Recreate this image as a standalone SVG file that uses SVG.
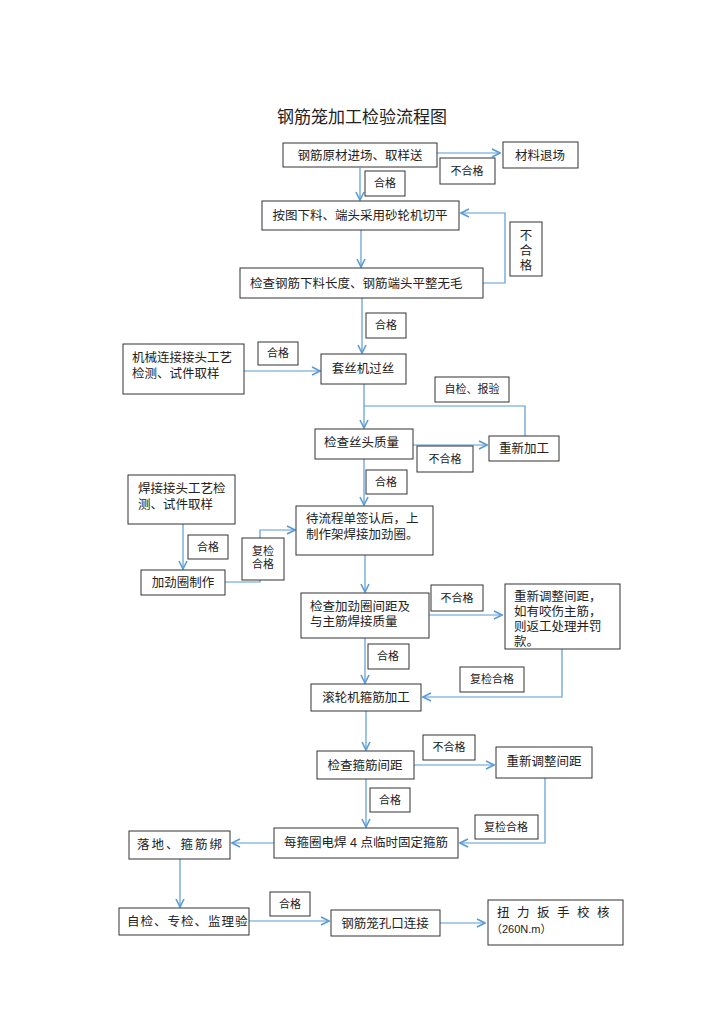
<svg xmlns="http://www.w3.org/2000/svg" width="724" height="1024" viewBox="0 0 724 1024">
<defs>
<marker id="a" viewBox="0 0 10 10" refX="9" refY="5" markerWidth="10" markerHeight="10" markerUnits="userSpaceOnUse" orient="auto"><path d="M1,1 L9,5 L1,9" fill="none" stroke="#5b9bd5" stroke-width="1.6"/></marker>
<style>
rect{fill:#fff;stroke:#333;stroke-width:1}
text{font-family:"Liberation Sans","Noto Sans CJK SC",sans-serif;font-size:12.5px;fill:#222}
.s{font-size:11px}
.c line,.c polyline{fill:none;stroke:#5b9bd5;stroke-width:1.2}
</style>
</defs>
<rect x="0" y="0" width="724" height="1024" style="stroke:none"/>
<text x="362" y="123" text-anchor="middle" style="font-size:17px">钢筋笼加工检验流程图</text>
<g class="c">
<line x1="437" y1="153" x2="500" y2="153" marker-end="url(#a)"/>
<line x1="360" y1="168" x2="360" y2="200" marker-end="url(#a)"/>
<line x1="361" y1="230" x2="361" y2="267" marker-end="url(#a)"/>
<polyline points="483,283 505,283 505,213 461,213" marker-end="url(#a)"/>
<line x1="362" y1="298" x2="362" y2="353" marker-end="url(#a)"/>
<line x1="244" y1="371" x2="320" y2="371" marker-end="url(#a)"/>
<line x1="364" y1="384" x2="364" y2="428" marker-end="url(#a)"/>
<polyline points="525,436 525,406 364,406"/>
<line x1="413" y1="445" x2="487" y2="445" marker-end="url(#a)"/>
<line x1="364" y1="459" x2="364" y2="505" marker-end="url(#a)"/>
<line x1="183" y1="524" x2="183" y2="569" marker-end="url(#a)"/>
<polyline points="225,582 260,582 260,530 295,530" marker-end="url(#a)"/>
<line x1="365" y1="555" x2="365" y2="592" marker-end="url(#a)"/>
<line x1="429" y1="615" x2="502" y2="615" marker-end="url(#a)"/>
<line x1="365" y1="638" x2="365" y2="683" marker-end="url(#a)"/>
<polyline points="562,649 562,697 423,697" marker-end="url(#a)"/>
<line x1="366" y1="711" x2="366" y2="750" marker-end="url(#a)"/>
<line x1="414" y1="765" x2="494" y2="765" marker-end="url(#a)"/>
<line x1="366" y1="779" x2="366" y2="827" marker-end="url(#a)"/>
<polyline points="545,778 545,843 460,843" marker-end="url(#a)"/>
<line x1="274" y1="843" x2="232" y2="843" marker-end="url(#a)"/>
<line x1="180" y1="859" x2="180" y2="907" marker-end="url(#a)"/>
<line x1="249" y1="921" x2="329" y2="921" marker-end="url(#a)"/>
<line x1="440" y1="923" x2="485" y2="923" marker-end="url(#a)"/>
</g>
<g id="n1"><rect x="283" y="143" width="154" height="24"/><text x="360" y="160" text-anchor="middle">钢筋原材进场、取样送</text></g>
<g id="n2"><rect x="503" y="142" width="75" height="26"/><text x="540" y="160" text-anchor="middle">材料退场</text></g>
<g id="l1"><rect x="440" y="158" width="55" height="26"/><text x="467" y="175" text-anchor="middle" class="s">不合格</text></g>
<g id="l2"><rect x="365" y="171" width="40" height="25"/><text x="385" y="187" text-anchor="middle" class="s">合格</text></g>
<g id="n3"><rect x="262" y="201" width="197" height="29"/><text x="360" y="220" text-anchor="middle">按图下料、端头采用砂轮机切平</text></g>
<g id="l3"><rect x="510" y="222" width="32" height="54"/><text x="526" y="240" text-anchor="middle">不</text><text x="526" y="255" text-anchor="middle">合</text><text x="526" y="270" text-anchor="middle">格</text></g>
<g id="n4"><rect x="240" y="268" width="243" height="30"/><text x="250" y="288">检查钢筋下料长度、钢筋端头平整无毛</text></g>
<g id="l4"><rect x="366" y="313" width="40" height="25"/><text x="386" y="329" text-anchor="middle" class="s">合格</text></g>
<g id="n5"><rect x="123" y="344" width="121" height="50"/><text x="132" y="362">机械连接接头工艺</text><text x="132" y="378">检测、试件取样</text></g>
<g id="l5"><rect x="258" y="342" width="40" height="23"/><text x="278" y="357" text-anchor="middle" class="s">合格</text></g>
<g id="n6"><rect x="321" y="354" width="85" height="30"/><text x="363" y="373" text-anchor="middle">套丝机过丝</text></g>
<g id="l6"><rect x="435" y="377" width="74" height="25"/><text x="472" y="393" text-anchor="middle" class="s">自检、报验</text></g>
<g id="n7"><rect x="315" y="429" width="98" height="30"/><text x="324" y="447">检查丝头质量</text></g>
<g id="l7"><rect x="417" y="446" width="56" height="26"/><text x="445" y="463" text-anchor="middle" class="s">不合格</text></g>
<g id="n8"><rect x="489" y="436" width="70" height="25"/><text x="524" y="453" text-anchor="middle">重新加工</text></g>
<g id="l8"><rect x="366" y="470" width="41" height="24"/><text x="386" y="486" text-anchor="middle" class="s">合格</text></g>
<g id="n9"><rect x="128" y="475" width="107" height="49"/><text x="138" y="493">焊接接头工艺检</text><text x="138" y="509">测、试件取样</text></g>
<g id="n10"><rect x="296" y="506" width="137" height="49"/><text x="306" y="523">待流程单签认后，上</text><text x="306" y="539">制作架焊接加劲圈。</text></g>
<g id="l9"><rect x="188" y="535" width="40" height="24"/><text x="208" y="551" text-anchor="middle" class="s">合格</text></g>
<g id="l10"><rect x="242" y="538" width="42" height="42"/><text x="263" y="555" text-anchor="middle" class="s">复检</text><text x="263" y="568" text-anchor="middle" class="s">合格</text></g>
<g id="n11"><rect x="141" y="570" width="84" height="25"/><text x="183" y="587" text-anchor="middle">加劲圈制作</text></g>
<g id="n12"><rect x="301" y="593" width="128" height="45"/><text x="310" y="611">检查加劲圈间距及</text><text x="310" y="626">与主筋焊接质量</text></g>
<g id="l11"><rect x="431" y="585" width="52" height="26"/><text x="457" y="602" text-anchor="middle" class="s">不合格</text></g>
<g id="n13"><rect x="505" y="584" width="115" height="65"/><text x="514" y="601">重新调整间距，</text><text x="514" y="616">如有咬伤主筋，</text><text x="514" y="631">则返工处理并罚</text><text x="514" y="646">款。</text></g>
<g id="l12"><rect x="368" y="644" width="41" height="25"/><text x="388" y="660" text-anchor="middle" class="s">合格</text></g>
<g id="l13"><rect x="460" y="667" width="64" height="25"/><text x="492" y="683" text-anchor="middle" class="s">复检合格</text></g>
<g id="n14"><rect x="311" y="684" width="110" height="27"/><text x="366" y="702" text-anchor="middle">滚轮机箍筋加工</text></g>
<g id="l14"><rect x="423" y="735" width="52" height="25"/><text x="449" y="751" text-anchor="middle" class="s">不合格</text></g>
<g id="n15"><rect x="317" y="751" width="97" height="28"/><text x="365" y="770" text-anchor="middle">检查箍筋间距</text></g>
<g id="n16"><rect x="496" y="747" width="96" height="31"/><text x="544" y="766" text-anchor="middle">重新调整间距</text></g>
<g id="l15"><rect x="370" y="788" width="40" height="24"/><text x="390" y="804" text-anchor="middle" class="s">合格</text></g>
<g id="l16"><rect x="475" y="815" width="63" height="24"/><text x="506" y="831" text-anchor="middle" class="s">复检合格</text></g>
<g id="n17"><rect x="274" y="828" width="184" height="30"/><text x="366" y="847" text-anchor="middle">每箍圈电焊 4 点临时固定箍筋</text></g>
<g id="n18"><rect x="129" y="831" width="101" height="28"/><text x="137" y="849" letter-spacing="2">落地、箍筋绑</text></g>
<g id="l17"><rect x="270" y="892" width="40" height="24"/><text x="290" y="908" text-anchor="middle" class="s">合格</text></g>
<g id="n19"><rect x="119" y="908" width="130" height="27"/><text x="127" y="926" letter-spacing="1">自检、专检、监理验</text></g>
<g id="n20"><rect x="331" y="910" width="109" height="26"/><text x="385" y="928" text-anchor="middle">钢筋笼孔口连接</text></g>
<g id="n21"><rect x="488" y="900" width="135" height="45"/><text x="497" y="917" letter-spacing="7.5">扭力扳手校核</text><text x="491" y="933" class="s">（260N.m）</text></g>
</svg>
